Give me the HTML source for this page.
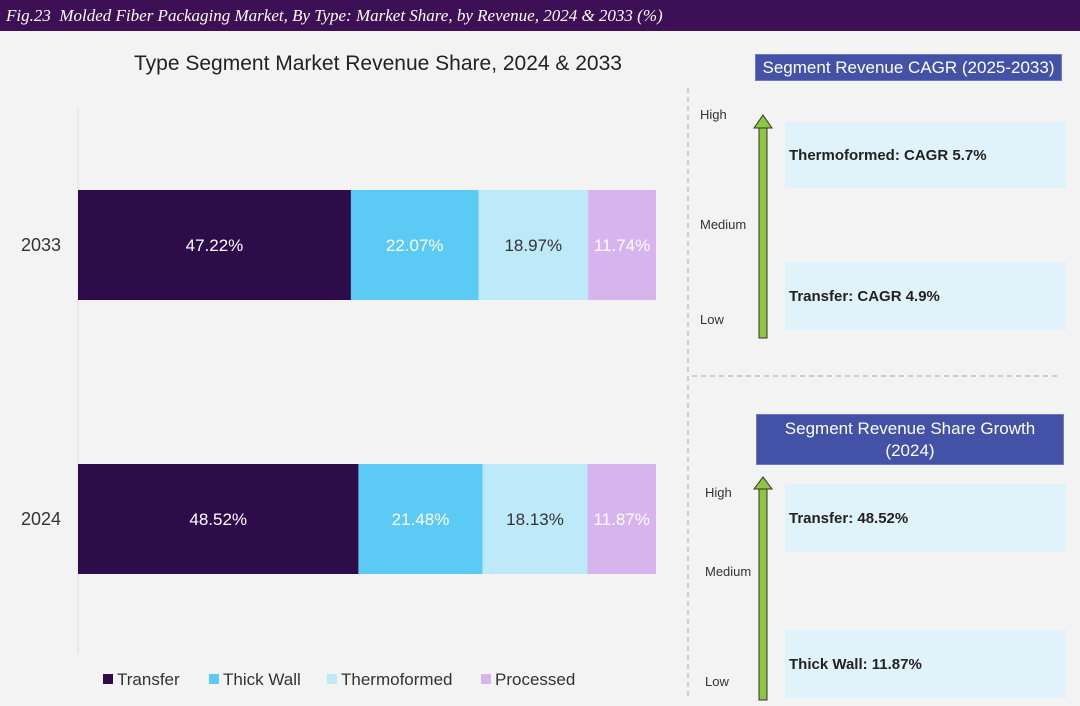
<!DOCTYPE html>
<html><head><meta charset="utf-8"><style>
body{margin:0;width:1080px;height:706px;background:#f3f3f3;font-family:"Liberation Sans",sans-serif;position:relative;overflow:hidden}
.abs{position:absolute}
.hdr{left:0;top:0;width:1080px;height:31px;background:#3d0f55;color:#fff;font-family:"Liberation Serif",serif;font-style:italic;font-size:17px;line-height:31px;padding-left:6px;box-sizing:border-box}
.lab{font-size:13px;color:#333}
.tbox{background:#4352a6;color:#fff;font-size:17px;text-align:center;border:1px solid #6c7ac0;box-sizing:border-box}
.lbox{background:#e0f3fb;font-weight:bold;font-size:15px;color:#222;display:flex;align-items:center;padding-left:4px;box-sizing:border-box}
</style></head><body>
<div class="abs hdr">Fig.23&nbsp; Molded Fiber Packaging Market, By Type: Market Share, by Revenue, 2024 &amp; 2033 (%)</div>
<svg class="abs" style="left:0;top:0" width="1080" height="706">
<text x="378" y="70" text-anchor="middle" font-size="21" fill="#222">Type Segment Market Revenue Share, 2024 &amp; 2033</text>
<line x1="78" y1="108" x2="78" y2="655" stroke="#e2e2e2"/>
<g id="bars"></g>
<g id="legend"></g>
<line x1="688" y1="88" x2="688" y2="700" stroke="#aaa" stroke-dasharray="5,4"/>
<line x1="692" y1="376" x2="1058" y2="376" stroke="#aaa" stroke-dasharray="5,4"/>
<g><rect x="759" y="128" width="8" height="210" fill="#8dc63f" stroke="#333" stroke-width="1"/><polygon points="754,128 763,115 772,128" fill="#8dc63f" stroke="#333"/></g>
<g><rect x="759" y="489" width="8" height="211" fill="#8dc63f" stroke="#333" stroke-width="1"/><polygon points="754,489 763,477 772,489" fill="#8dc63f" stroke="#333"/></g>
</svg>
<div class="abs tbox" style="left:755px;top:54px;width:307px;height:27px;line-height:25px">Segment Revenue CAGR (2025-2033)</div>
<div class="abs lab" style="left:700px;top:107px">High</div>
<div class="abs lab" style="left:700px;top:217px">Medium</div>
<div class="abs lab" style="left:700px;top:312px">Low</div>
<div class="abs lbox" style="left:785px;top:122px;width:281px;height:66px">Thermoformed: CAGR 5.7%</div>
<div class="abs lbox" style="left:785px;top:262px;width:281px;height:68px">Transfer: CAGR 4.9%</div>
<div class="abs tbox" style="left:756px;top:414px;width:308px;height:51px;line-height:22px;padding-top:3px">Segment Revenue Share Growth<br>(2024)</div>
<div class="abs lab" style="left:705px;top:485px">High</div>
<div class="abs lab" style="left:705px;top:564px">Medium</div>
<div class="abs lab" style="left:705px;top:674px">Low</div>
<div class="abs lbox" style="left:785px;top:484px;width:281px;height:68px">Transfer: 48.52%</div>
<div class="abs lbox" style="left:785px;top:630px;width:281px;height:68px">Thick Wall: 11.87%</div>
<script>
const categories=["2033","2024"];
const seriesNames=["Transfer","Thick Wall","Thermoformed","Processed"];
const transfer=[47.22,48.52];
const thickWall=[22.07,21.48];
const thermoformed=[18.97,18.13];
const processed=[11.74,11.87];
const colors=["#2e0c4a","#5bcbf5","#bde9f9","#d8b4ee"];
const txtColors=["#fff","#fff","#333","#fff"];
const series=[transfer,thickWall,thermoformed,processed];
const x0=78,xw=578;
const xs=v=>v/100*xw;
const yTop=[190,464],bh=110;
const NS="http://www.w3.org/2000/svg";
const g=document.getElementById('bars');
categories.forEach((c,i)=>{
  const t=document.createElementNS(NS,'text');
  t.setAttribute('x',61);t.setAttribute('y',yTop[i]+bh/2+6);t.setAttribute('text-anchor','end');t.setAttribute('font-size','18');t.setAttribute('fill','#333');t.textContent=c;
  
  
  g.appendChild(t);
  let acc=0;
  series.forEach((s,j)=>{
    const r=document.createElementNS(NS,'rect');
    r.setAttribute('x',x0+xs(acc));r.setAttribute('y',yTop[i]);r.setAttribute('width',xs(s[i]));r.setAttribute('height',bh);r.setAttribute('fill',colors[j]);
    
    
    g.appendChild(r);
    const l=document.createElementNS(NS,'text');
    l.setAttribute('x',x0+xs(acc+s[i]/2));l.setAttribute('y',yTop[i]+bh/2+6);l.setAttribute('text-anchor','middle');l.setAttribute('font-size','17');l.setAttribute('fill',txtColors[j]);
    l.textContent=s[i].toFixed(2)+'%';
    
    
    g.appendChild(l);
    acc+=s[i];
  });
});
const lg=document.getElementById('legend');
const lx=[103,209,327,481];
seriesNames.forEach((n,j)=>{
  const e=document.createElementNS(NS,'g');
  
  
  const r=document.createElementNS(NS,'rect');
  r.setAttribute('x',lx[j]);r.setAttribute('y',674);r.setAttribute('width',10);r.setAttribute('height',10);r.setAttribute('fill',colors[j]);
  const t=document.createElementNS(NS,'text');
  t.setAttribute('x',lx[j]+14);t.setAttribute('y',685);t.setAttribute('font-size','17');t.setAttribute('fill','#333');t.textContent=n;
  e.appendChild(r);e.appendChild(t);lg.appendChild(e);
});
</script>
</body></html>
